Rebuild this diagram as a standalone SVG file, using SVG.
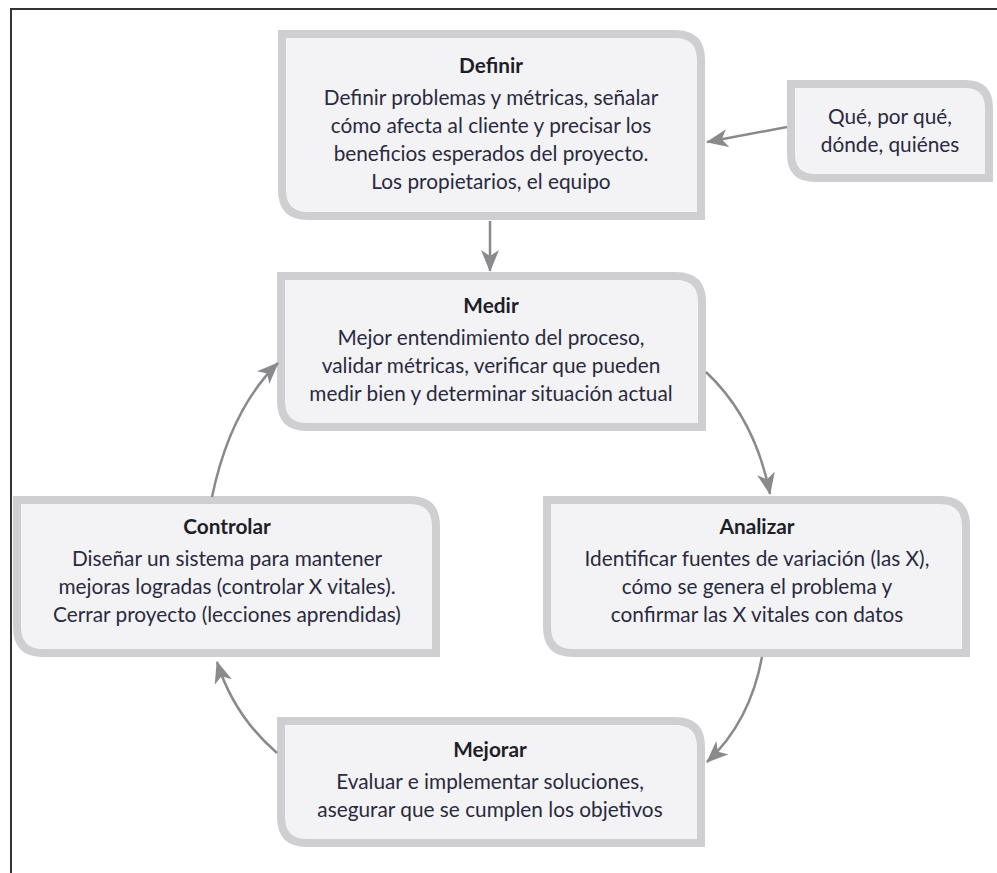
<svg xmlns="http://www.w3.org/2000/svg" width="997" height="873" viewBox="0 0 997 873">
<style>
.box{fill:#f3f3f5;stroke:#cfcfd2;stroke-width:8}
.t{font-family:Lato,"Open Sans",sans-serif;font-size:20.8px;fill:#2a2a40;text-anchor:middle}
.h{font-weight:bold;fill:#1e1e28}
.c{fill:none;stroke:#8a8a8e;stroke-width:2.5}
</style>
<defs>
<marker id="ah" markerUnits="userSpaceOnUse" markerWidth="26" markerHeight="20" refX="21" refY="9" orient="auto">
<path d="M0,0 L22,9 L0,18 L6,9 z" fill="#8a8a8e"/>
</marker>
</defs>
<rect width="997" height="873" fill="#fff"/>
<path d="M11,873 V9 H997" fill="none" stroke="#333" stroke-width="2"/>

<g id="definir">
<path class="box" d="M282,34 H675 Q701,34 701,60 V216 H308 Q282,216 282,190 Z"/>
<text class="t" x="491" y="73"><tspan class="h">Definir</tspan><tspan x="491" dy="32">Definir problemas y métricas, señalar</tspan><tspan x="491" dy="28">cómo afecta al cliente y precisar los</tspan><tspan x="491" dy="28">beneficios esperados del proyecto.</tspan><tspan x="491" dy="28">Los propietarios, el equipo</tspan></text>
</g>

<g id="que">
<path class="box" d="M791,84 H965 Q989,84 989,108 V178 H815 Q791,178 791,154 Z"/>
<text class="t" x="890" y="124">Qué, por qué,<tspan x="890" dy="28">dónde, quiénes</tspan></text>
</g>

<g id="medir">
<path class="box" d="M281,276 H676 Q702,276 702,302 V427 H307 Q281,427 281,401 Z"/>
<text class="t" x="491" y="313"><tspan class="h">Medir</tspan><tspan x="491" dy="32">Mejor entendimiento del proceso,</tspan><tspan x="491" dy="28">validar métricas, verificar que pueden</tspan><tspan x="491" dy="28">medir bien y determinar situación actual</tspan></text>
</g>

<g id="controlar">
<path class="box" d="M17,500 H410 Q436,500 436,526 V653 H43 Q17,653 17,627 Z"/>
<text class="t" x="227" y="534"><tspan class="h">Controlar</tspan><tspan x="227" dy="32">Diseñar un sistema para mantener</tspan><tspan x="227" dy="28">mejoras logradas (controlar X vitales).</tspan><tspan x="227" dy="28">Cerrar proyecto (lecciones aprendidas)</tspan></text>
</g>

<g id="analizar">
<path class="box" d="M547,500 H940 Q966,500 966,526 V653 H573 Q547,653 547,627 Z"/>
<text class="t" x="757" y="534"><tspan class="h">Analizar</tspan><tspan x="757" dy="32">Identificar fuentes de variación (las X),</tspan><tspan x="757" dy="28">cómo se genera el problema y</tspan><tspan x="757" dy="28">confirmar las X vitales con datos</tspan></text>
</g>

<g id="mejorar">
<path class="box" d="M281,721 H675 Q701,721 701,747 V843 H307 Q281,843 281,817 Z"/>
<text class="t" x="490" y="757"><tspan class="h">Mejorar</tspan><tspan x="490" dy="32">Evaluar e implementar soluciones,</tspan><tspan x="490" dy="28">asegurar que se cumplen los objetivos</tspan></text>
</g>

<g id="connectors">
<path class="c" marker-end="url(#ah)" d="M787,127 L707,142"/>
<path class="c" marker-end="url(#ah)" d="M490,221 L490,271"/>
<path class="c" marker-end="url(#ah)" d="M706,372 Q755,418 770,494"/>
<path class="c" marker-end="url(#ah)" d="M762,657 Q750,722 707,762"/>
<path class="c" marker-end="url(#ah)" d="M277,753 Q234,716 217,662"/>
<path class="c" marker-end="url(#ah)" d="M212,497 Q230,410 278,363"/>
</g>
</svg>
